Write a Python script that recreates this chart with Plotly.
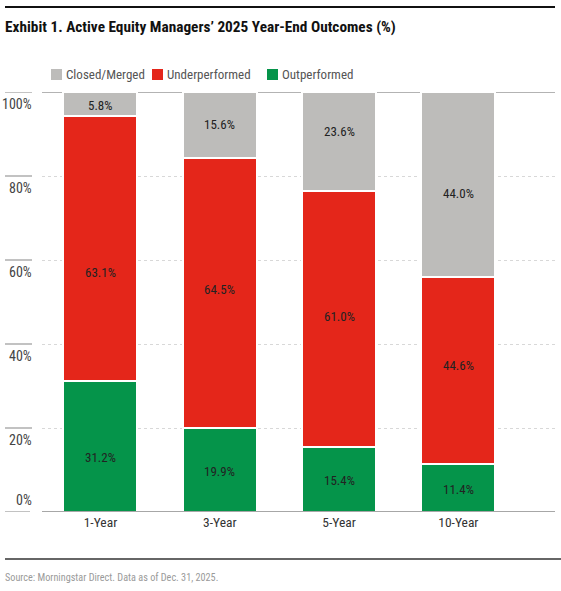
import plotly.graph_objects as go

categories = ["1-Year", "3-Year", "5-Year", "10-Year"]
outperformed = [31.2, 19.9, 15.4, 11.4]
underperformed = [63.1, 64.5, 61.0, 44.6]
closed_merged = [5.8, 15.6, 23.6, 44.0]
y_ticks = [0, 20, 40, 60, 80, 100]
y_tick_labels = ["0%", "20%", "40%", "60%", "80%", "100%"]

FONT = "Roboto Condensed, Roboto, Arial"
colors = {"Outperformed": "#05944A", "Underperformed": "#E4261A", "Closed/Merged": "#BDBCBA"}
series = [("Outperformed", outperformed), ("Underperformed", underperformed), ("Closed/Merged", closed_merged)]
# style: vertical pixel nudges of the value labels (positive = down), as in the reference
label_nudge = {
    "Outperformed": [11, 1, 1, 1],
    "Underperformed": [24, -3, -3, -5],
    "Closed/Merged": [2, 0, -10, 9],
}

fig = go.Figure()
for name, vals in series:
    fig.add_trace(go.Bar(
        x=categories, y=vals, name=name,
        marker=dict(color=colors[name], line=dict(color="white", width=2)),
        width=0.62, hoverinfo="skip", showlegend=False,
    ))

# value labels
base = [0.0] * len(categories)
for name, vals in series:
    for i, (c, v) in enumerate(zip(categories, vals)):
        fig.add_annotation(text=f"{v:.1f}%", x=c, y=base[i] + v / 2, xref="x", yref="y",
                           yshift=-label_nudge[name][i], showarrow=False,
                           font=dict(family=FONT, size=13, color="#222"))
        base[i] += v

L, R, T, B = 42, 6, 92, 79
W, H = 561, 591
pw = W - L - R
ph = H - T - B

def px_x(px):
    return (px - L) / pw

def px_y(px):
    return (H - B - px) / ph

fig.update_layout(
    width=W, height=H,
    margin=dict(l=L, r=R, t=T, b=B),
    barmode="stack",
    paper_bgcolor="white", plot_bgcolor="white",
    font=dict(family=FONT, color="#333"),
    showlegend=False,
    xaxis=dict(range=[-0.49, 3.81], showgrid=False, showline=False, ticks="",
               tickfont=dict(family=FONT, size=13.5, color="#333")),
    yaxis=dict(range=[0, 100], tickvals=[20, 40, 60, 80], showticklabels=False,
               showgrid=True, gridcolor="#D8D8D8", griddash="dot", gridwidth=1,
               zeroline=False, showline=False),
)

# legend (manual, to match the tight symbol/text spacing)
legend_items = [("Closed/Merged", 51), ("Underperformed", 152), ("Outperformed", 267)]
for name, x0 in legend_items:
    fig.add_shape(type="rect", xref="paper", yref="paper",
                  x0=px_x(x0), x1=px_x(x0 + 11), y0=px_y(80), y1=px_y(69),
                  fillcolor=colors[name], line=dict(width=0))
    fig.add_annotation(text=name, xref="paper", yref="paper", x=px_x(x0 + 13), y=px_y(75),
                       xanchor="left", yanchor="middle", showarrow=False,
                       font=dict(family=FONT, size=13, color="#555"))

# 100% top line and 0% baseline
fig.add_shape(type="line", xref="paper", yref="y", x0=0, x1=1, y0=100, y1=100,
              line=dict(color="#9A9A9A", width=1.5), layer="below")
fig.add_shape(type="line", xref="paper", yref="y", x0=0, x1=1, y0=0, y1=0,
              line=dict(color="#8A8A8A", width=1.5), layer="above")

# y tick labels with short lines to the left
for v, lab in zip(y_ticks, y_tick_labels):
    if v == 0:
        ly = 2.9
        fig.add_shape(type="line", xref="paper", yref="y", x0=px_x(5), x1=px_x(30), y0=v, y1=v,
                      line=dict(color="#9A9A9A", width=1.2))
    else:
        ly = v - 2.9
        fig.add_shape(type="line", xref="paper", yref="y", x0=px_x(5), x1=px_x(32), y0=v, y1=v,
                      line=dict(color="#9A9A9A", width=1.2))
    fig.add_annotation(text=lab, xref="paper", yref="y", x=px_x(34), y=ly, xanchor="right",
                       yanchor="middle", showarrow=False,
                       font=dict(family=FONT, size=14, color="#444"))

# title, top rule, bottom rule, source
fig.add_shape(type="line", xref="paper", yref="paper", x0=px_x(5), x1=px_x(555), y0=px_y(7), y1=px_y(7),
              line=dict(color="#111", width=2))
fig.add_annotation(text="<b>Exhibit 1. Active Equity Managers’ 2025 Year-End Outcomes (%)</b>",
                   xref="paper", yref="paper", x=px_x(3), y=px_y(27), xanchor="left", yanchor="middle",
                   showarrow=False, font=dict(family=FONT, size=15.3, color="#111"))
fig.add_shape(type="line", xref="paper", yref="paper", x0=px_x(5), x1=px_x(561), y0=px_y(559), y1=px_y(559),
              line=dict(color="#333", width=1.5))
fig.add_annotation(text="Source: Morningstar Direct. Data as of Dec. 31, 2025.",
                   xref="paper", yref="paper", x=px_x(3), y=px_y(577), xanchor="left", yanchor="middle",
                   showarrow=False, font=dict(family=FONT, size=10.2, color="#9A9A9A"))

fig.write_html("out.html")
